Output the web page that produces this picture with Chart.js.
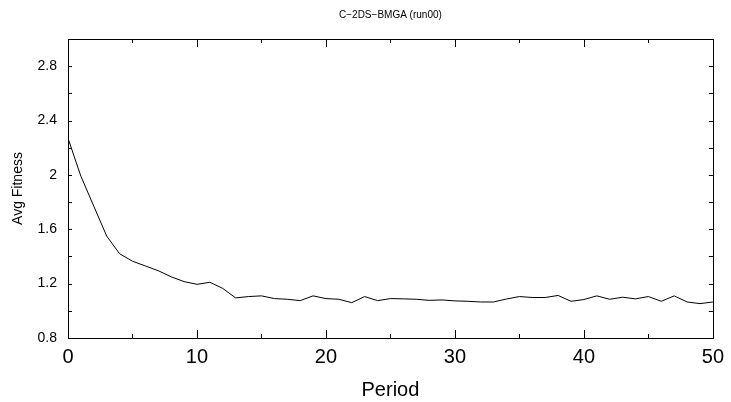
<!DOCTYPE html>
<html>
<head>
<meta charset="utf-8">
<script src="https://cdn.jsdelivr.net/npm/chart.js@4/dist/chart.umd.min.js"></script>
<style>
  html, body { margin: 0; padding: 0; background: #fff; }
  #wrap { width: 731px; height: 402px; }
</style>
</head>
<body>
<div id="wrap"><canvas id="grafica"></canvas></div>
<script>
// datos
var periodos = [];
for (var p = 0; p <= 50; p++) periodos.push(p);
var fitness = [
  2.27, 1.99, 1.77, 1.55, 1.42, 1.365, 1.33, 1.295, 1.25, 1.215,
  1.195, 1.21, 1.165, 1.095, 1.105, 1.11, 1.09, 1.085, 1.075, 1.11,
  1.09, 1.085, 1.06, 1.105, 1.075, 1.09, 1.088, 1.085, 1.077, 1.08,
  1.073, 1.07, 1.065, 1.065, 1.087, 1.105, 1.098, 1.098, 1.113, 1.07,
  1.083, 1.11, 1.085, 1.1, 1.088, 1.105, 1.07, 1.11, 1.065, 1.053,
  1.065
];
var xTicks = [0, 10, 20, 30, 40, 50];
var xMinor = [0, 5, 10, 15, 20, 25, 30, 35, 40, 45, 50];
var yTicks = [0.8, 1.2, 1.6, 2, 2.4, 2.8];
var yMinor = [0.8, 1.0, 1.2, 1.4, 1.6, 1.8, 2.0, 2.2, 2.4, 2.6, 2.8];

var fuente = "'Liberation Sans', Arial, sans-serif";

// marco y marcas hacia adentro, estilo gnuplot
var marco = {
  id: "marco",
  afterDraw: function (chart) {
    var ctx = chart.ctx;
    var a = chart.chartArea;
    var sx = chart.scales.x;
    var sy = chart.scales.y;
    ctx.save();
    ctx.strokeStyle = "#000";
    ctx.lineWidth = 1;
    ctx.strokeRect(Math.round(a.left) + 0.5, Math.round(a.top) + 0.5,
      Math.round(a.right - a.left), Math.round(a.bottom - a.top));
    ctx.beginPath();
    xMinor.forEach(function (v) {
      var px = Math.round(sx.getPixelForValue(v)) + 0.5;
      var len = v % 10 === 0 ? 8 : 4;
      ctx.moveTo(px, a.bottom);
      ctx.lineTo(px, a.bottom - len);
      ctx.moveTo(px, a.top);
      ctx.lineTo(px, a.top + len);
    });
    yMinor.forEach(function (v) {
      var py = Math.round(sy.getPixelForValue(v)) + 0.5;
      ctx.moveTo(a.left, py);
      ctx.lineTo(a.left + 4, py);
      ctx.moveTo(a.right, py);
      ctx.lineTo(a.right - 4, py);
    });
    ctx.stroke();
    ctx.restore();
  },
};

var ctx = document.getElementById("grafica").getContext("2d");
var myChart = new Chart(ctx, {
  type: "line",
  data: {
    datasets: [
      {
        label: "Avg Fitness",
        data: periodos.map(function (p, i) {
          return { x: p, y: fitness[i] };
        }),
        borderColor: "#000",
        borderWidth: 1,
        pointRadius: 0,
        tension: 0,
        fill: false,
      },
    ],
  },
  options: {
    responsive: true,
    maintainAspectRatio: false,
    animation: false,
    layout: { padding: { left: 0, right: 18, top: 0, bottom: 0 } },
    plugins: {
      legend: { display: false },
      tooltip: { enabled: false },
      title: {
        display: true,
        text: "C\u22122DS\u2212BMGA (run00)",
        color: "#000",
        fullSize: false,
        font: { family: fuente, size: 10, weight: "normal" },
        padding: { top: 9, bottom: 18 },
      },
    },
    scales: {
      x: {
        type: "linear",
        min: 0,
        max: 50,
        grid: { display: false, drawTicks: false },
        border: { display: false },
        afterBuildTicks: function (scale) {
          scale.ticks = xTicks.map(function (v) { return { value: v }; });
        },
        afterFit: function (scale) {
          scale.height = 64;
        },
        ticks: {
          color: "#000",
          padding: 7,
          maxRotation: 0,
          font: { family: fuente, size: 20 },
        },
        title: {
          display: true,
          text: "Period",
          color: "#000",
          font: { family: fuente, size: 20 },
          padding: { top: 0, bottom: 0 },
        },
      },
      y: {
        min: 0.8,
        max: 3.0,
        grid: { display: false, drawTicks: false },
        border: { display: false },
        afterBuildTicks: function (scale) {
          scale.ticks = yTicks.map(function (v) { return { value: v }; });
        },
        afterFit: function (scale) {
          scale.width = 68;
        },
        ticks: {
          color: "#000",
          padding: 11,
          font: { family: fuente, size: 14 },
          callback: function (v) { return String(Math.round(v * 10) / 10); },
        },
        title: {
          display: true,
          text: "Avg Fitness",
          color: "#000",
          font: { family: fuente, size: 14 },
          padding: { top: 10, bottom: 0 },
        },
      },
    },
  },
  plugins: [marco],
});
</script>
</body>
</html>
